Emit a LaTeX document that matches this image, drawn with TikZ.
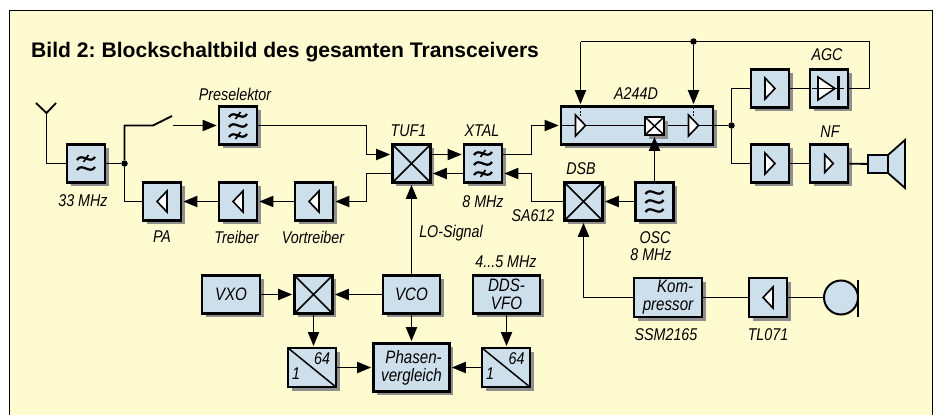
\documentclass[tikz,border=0pt]{standalone}
\usepackage{fontspec}
\setmainfont{Liberation Sans}
\newfontfamily\labelfont[FakeStretch=0.84]{Liberation Sans}
\usetikzlibrary{arrows.meta,shadows}
\definecolor{panelcol}{HTML}{FFFBD0}
\definecolor{boxcol}{HTML}{CEDFEC}
\definecolor{shadecol}{HTML}{8F8F8F}
\tikzset{
  blockbox/.style={draw, line width=2.6pt, fill=boxcol, inner sep=0pt, align=center,
    font=\fontsize{18}{19}\selectfont\labelfont\itshape,
    drop shadow={shadow xshift=3.5pt, shadow yshift=-3.5pt, fill=shadecol, opacity=1}},
  sqbox/.style={blockbox, minimum width=38pt, minimum height=38pt},
  mixbox/.style={sqbox, path picture={
    \draw[line width=1.5pt] (path picture bounding box.south west) -- (path picture bounding box.north east);
    \draw[line width=1.5pt] (path picture bounding box.north west) -- (path picture bounding box.south east);}},
  divbox/.style={blockbox, line width=1.8pt, minimum width=48pt, minimum height=39pt, path picture={
    \draw[line width=1.5pt] (path picture bounding box.north west) -- (path picture bounding box.south east);}},
  lbl/.style={inner sep=0pt, font=\fontsize{17}{18}\selectfont\labelfont\itshape},
  sig/.style={line width=1.85pt},
  arr/.style={sig, shorten >=1pt, -{Triangle[length=14pt,width=11pt]}},
  dotnode/.style={circle, fill=black, inner sep=0pt, minimum size=6.5pt},
  ampr/.pic={\draw[line width=1.6pt, fill=white] (-5,-10.5) -- (5,0) -- (-5,10.5) -- cycle;},
  ampl/.pic={\draw[line width=1.6pt, fill=white] (5,-10.5) -- (-5,0) -- (5,10.5) -- cycle;},
  wave/.pic={\draw[line width=2.2pt] (-9,1.5) .. controls (-4,-6.5) and (4,6.5) .. (9,-1.5);},
  wavex/.pic={\draw[line width=2.2pt] (-9,1.5) .. controls (-4,-6.5) and (4,6.5) .. (9,-1.5);
    \draw[line width=1.7pt] (-2.5,3.5) -- (2.5,-3.5);}
}
\begin{document}
\begin{tikzpicture}[x=1pt,y=-1pt]
\useasboundingbox (0,0) rectangle (940,415);
\fill[panelcol] (9.5,10.5) rectangle (932,415);
\draw[line width=0.9pt] (9.5,415) -- (9.5,10.5) -- (932,10.5) -- (932,415);
\node[anchor=base west, inner sep=0pt, font=\fontsize{21.1}{22}\selectfont\bfseries] (title) at (31,57) {Bild 2:\ Blockschaltbild des gesamten Transceivers};
% receive and transmit path
\node[sqbox] (lp) at (86,163.5) {};
\node[sqbox] (presel) at (238,125.5) {};
\node[sqbox] (pa) at (162,201.5) {};
\node[sqbox] (treiber) at (238,201.5) {};
\node[sqbox] (vortreiber) at (314,201.5) {};
\node[mixbox] (tuf) at (411.5,163.5) {};
\node[sqbox] (xtal) at (483,163.5) {};
\node[blockbox, minimum width=152pt, minimum height=38pt] (a244) at (637,125.5) {};
\node[mixbox] (dsb) at (583.5,201.5) {};
\node[sqbox] (osc) at (654.5,201.5) {};
\node[sqbox] (ifamp) at (770,88.5) {};
\node[sqbox] (agc) at (829,88.5) {};
\node[sqbox] (afamp) at (770,163.5) {};
\node[sqbox] (nf) at (829,163.5) {};
\node[draw, line width=1.8pt, fill=boxcol, minimum width=20pt, minimum height=18pt, inner sep=0pt] (spk) at (878,164) {};
% synthesizer
\node[blockbox, minimum width=58pt, minimum height=38pt] (vxo) at (231,294.5) {VXO};
\node[mixbox] (mixb) at (313.5,294.5) {};
\node[blockbox, minimum width=57pt, minimum height=38pt] (vco) at (411.5,294.5) {VCO};
\node[blockbox, minimum width=67pt, minimum height=38pt] (dds) at (506.5,294.5) {DDS-\\[-1pt]VFO};
\node[divbox] (diva) at (312,367.5) {};
\node[blockbox, minimum width=76pt, minimum height=48pt, align=right] (phase) at (411.5,367.5) {Phasen-\\[-1pt]vergleich};
\node[divbox] (divb) at (506,367.5) {};
% microphone path
\node[blockbox, minimum width=68pt, minimum height=39pt, align=right] (komp) at (668,297.5) {Kom-\\[-1pt]pressor};
\node[sqbox, minimum height=39pt] (tl) at (768,297.5) {};
\node[circle, draw, line width=2pt, fill=boxcol, minimum size=34pt, inner sep=0pt] (mic) at (841,297.5) {};
\draw[line width=1.5pt] (858,280) -- (858,317);
\draw[line width=1.8pt, fill=boxcol] (888,155) -- (905,140) -- (905,188) -- (888,173) -- cycle;
% connectors
\node[dotnode] (j1) at (124.5,163.5) {};
\node[dotnode] (j2) at (731.5,125.5) {};
\node[dotnode] (j3) at (693.5,41.5) {};
\coordinate (ant) at (46.5,113);
\coordinate (sw1) at (153,125.5);
\coordinate (sw2) at (172,116);
\coordinate (sw3) at (173,125.5);
\coordinate (agct) at (869.5,41.5);
\coordinate (a244t) at (580.5,41.5);
\draw[sig] (36,103) -- (ant) -- (56,103);
\draw[sig] (ant) |- (lp);
\draw[sig] (lp) -- (j1);
\draw[sig] (j1) |- (sw1) -- (sw2);
\draw[arr] (sw3) -- (presel);
\draw[sig] (j1) |- (pa);
\draw[arr] (presel) -| (366.5,154.5) -- ([yshift=9pt]tuf.west);
\draw[arr] ([yshift=9pt]tuf.east) -- ([yshift=9pt]xtal.west);
\draw[arr] ([yshift=-10pt]xtal.west) -- ([yshift=-10pt]tuf.east);
\draw[arr] ([yshift=-10pt]tuf.west) -| (366.5,201.5) -- (vortreiber);
\draw[arr] (vortreiber) -- (treiber);
\draw[arr] (treiber) -- (pa);
\draw[arr] (vco) -- (tuf);
\draw[arr] ([yshift=9pt]xtal.east) -| (531.5,125.5) -- (a244);
\draw[arr] (dsb) -| (531.5,173.5) -- ([yshift=-10pt]xtal.east);
\draw[arr] (osc) -- (dsb);
\draw[sig] (a244.west) -- (j2);
\draw[sig] (j2) |- (ifamp);
\draw[sig] (j2) |- (afamp);
\draw[sig] (ifamp) -- (agc);
\draw[sig] (afamp) -- (nf);
\draw[sig] (nf) -- (spk);
\draw[sig] (agc) -| (agct) -- (a244t);
\draw[arr] (a244t) -- (a244.north -| a244t);
\draw[arr] (j3) -- (a244.north -| j3);
\draw[sig, dash pattern=on 2pt off 1.5pt] (580.5,107) -- (580.5,117);
\draw[sig, dash pattern=on 2pt off 1.5pt] (693.5,107) -- (693.5,117);
\draw[arr] (komp) -| (dsb);
\draw[sig] (komp) -- (tl);
\draw[sig] (tl) -- (mic);
\draw[arr] (vxo) -- (mixb);
\draw[arr] (vco) -- (mixb);
\draw[arr] (mixb) -- (mixb |- diva.north);
\draw[arr] (vco) -- (phase);
\draw[arr] (dds) -- (dds |- divb.north);
\draw[arr] (diva) -- (phase);
\draw[arr] (divb) -- (phase);
% symbols inside the boxes
\node[mixbox, draw, line width=1.8pt, fill=white, minimum width=19pt, minimum height=18pt, drop shadow={opacity=0}] (amix) at (654.5,126) {};
\draw[arr] (osc) -- (amix);
\pic at (580.5,125.5) {ampr};
\pic at (693.5,125.5) {ampr};
\pic at (pa) {ampl};
\pic at (treiber) {ampl};
\pic at (vortreiber) {ampl};
\pic at (tl) {ampl};
\pic at (ifamp) {ampr};
\pic at (afamp) {ampr};
\pic[scale=0.85] at (nf) {ampr};
\pic at ([yshift=5pt]lp.center) {wavex};
\pic at ([yshift=-5pt]lp.center) {wave};
\foreach \boxname in {presel,xtal} {
  \pic at ([yshift=10pt]\boxname.center) {wavex};
  \pic at (\boxname.center) {wave};
  \pic at ([yshift=-10pt]\boxname.center) {wavex};
}
\pic at ([yshift=9pt]osc.center) {wave};
\pic at (osc.center) {wave};
\pic at ([yshift=-9pt]osc.center) {wave};
\draw[line width=1.6pt, fill=white] (818,77) -- (835,88.5) -- (818,100) -- cycle;
\draw[line width=1.6pt] (812,88.5) -- (844,88.5);
\draw[line width=3pt] (838.5,76) -- (838.5,100);
% divider numbers
\node[lbl] (divatop) at ([xshift=10pt,yshift=8.5pt]diva.center) {64};
\node[lbl] (divalow) at ([xshift=-16pt,yshift=-6.5pt]diva.center) {1};
\node[lbl] (divbtop) at ([xshift=10.5pt,yshift=8.5pt]divb.center) {64};
\node[lbl] (divblow) at ([xshift=-16pt,yshift=-6.5pt]divb.center) {1};
% labels
\node[lbl] (tpresel) at (235,94) {Preselektor};
\node[lbl] (tlp) at (83,201) {33 MHz};
\node[lbl] (tpa) at (162,237) {PA};
\node[lbl] (ttreiber) at (236.5,237) {Treiber};
\node[lbl] (tvortreiber) at (313,237) {Vortreiber};
\node[lbl] (ttuf) at (408.5,131) {TUF1};
\node[lbl] (txtal) at (482,131) {XTAL};
\node[lbl] (txtalb) at (483,202) {8 MHz};
\node[lbl] (tsa) at (533,216) {SA612};
\node[lbl] (tdsb) at (581,169) {DSB};
\node[lbl] (ta244) at (636,94) {A244D};
\node[lbl] (tagc) at (827,55) {AGC};
\node[lbl] (tnf) at (830,132) {NF};
\node[lbl] (tosc) at (655,238) {OSC};
\node[lbl] (toscb) at (651,255) {8 MHz};
\node[lbl] (tkomp) at (666,335) {SSM2165};
\node[lbl] (ttl) at (768,335) {TL071};
\node[lbl] (tlo) at (451,233) {LO-Signal};
\node[lbl] (tdds) at (506,262) {4...5 MHz};
\end{tikzpicture}
\end{document}
